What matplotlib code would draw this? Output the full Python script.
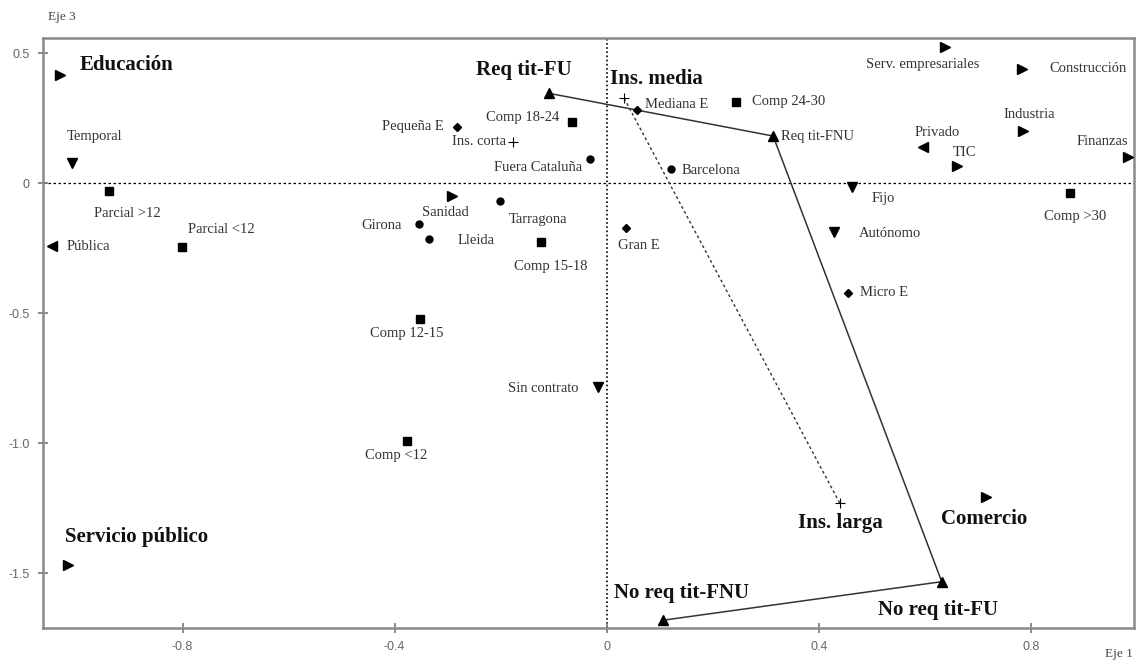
import matplotlib
matplotlib.use('Agg')
import matplotlib.pyplot as plt

# ---- coordinates on Eje 1 (x) / Eje 3 (y)

# sector (right-pointing triangles)
sector_names = ['Educación', 'Servicio público', 'Sanidad', 'Serv. empresariales',
                'Construcción', 'Industria', 'Finanzas', 'TIC', 'Comercio']
sector_x = [-1.032, -1.017, -0.292, 0.638, 0.783, 0.786, 0.984, 0.660, 0.715]
sector_y = [0.417, -1.468, -0.049, 0.523, 0.440, 0.201, 0.100, 0.067, -1.205]

# public / private (left-pointing triangles)
owner_names = ['Pública', 'Privado']
owner_x = [-1.047, 0.597]
owner_y = [-0.241, 0.141]

# contract type (down triangles)
contract_names = ['Temporal', 'Fijo', 'Autónomo', 'Sin contrato']
contract_x = [-1.009, 0.462, 0.428, -0.017]
contract_y = [0.077, -0.013, -0.186, -0.785]

# working time (squares)
hours_names = ['Parcial >12', 'Parcial <12', 'Comp 12-15', 'Comp <12', 'Comp 15-18',
               'Comp 18-24', 'Comp 24-30', 'Comp >30']
hours_x = [-0.938, -0.802, -0.353, -0.376, -0.124, -0.065, 0.244, 0.874]
hours_y = [-0.028, -0.244, -0.522, -0.991, -0.224, 0.237, 0.314, -0.038]

# company size (diamonds)
size_names = ['Pequeña E', 'Mediana E', 'Gran E', 'Micro E']
size_x = [-0.283, 0.057, 0.036, 0.456]
size_y = [0.218, 0.282, -0.173, -0.421]

# territory (circles)
terr_names = ['Girona', 'Lleida', 'Tarragona', 'Barcelona', 'Fuera Cataluña']
terr_x = [-0.354, -0.335, -0.201, 0.121, -0.032]
terr_y = [-0.157, -0.214, -0.067, 0.055, 0.093]

# degree requirement (up triangles), in path order
req_names = ['Req tit-FU', 'Req tit-FNU', 'No req tit-FU', 'No req tit-FNU']
req_x = [-0.108, 0.314, 0.632, 0.107]
req_y = [0.346, 0.182, -1.532, -1.680]

# insertion (plus)
ins_names = ['Ins. corta', 'Ins. media', 'Ins. larga']
ins_x = [-0.176, 0.033, 0.440]
ins_y = [0.160, 0.327, -1.231]

bold_names = ['Educación', 'Servicio público', 'Req tit-FU', 'Ins. media', 'Ins. larga',
              'Comercio', 'No req tit-FU', 'No req tit-FNU']

xticks = [-0.8, -0.4, 0, 0.4, 0.8]
xtick_labels = ['-0.8', '-0.4', '0', '0.4', '0.8']
yticks = [0.5, 0, -0.5, -1.0, -1.5]
ytick_labels = ['0.5', '0', '-0.5', '-1.0', '-1.5']

# label offsets in pixels (dx, dy, ha)
label_pos = {
    'Educación': (20, 10, 'left'), 'Servicio público': (-3, 28, 'left'),
    'Sanidad': (-7, -16, 'center'), 'Serv. empresariales': (-22, -17, 'center'),
    'Construcción': (28, 0, 'left'), 'Industria': (6, 17, 'center'),
    'Finanzas': (-26, 16, 'center'), 'TIC': (8, 13, 'center'),
    'Comercio': (-2, -22, 'center'),
    'Pública': (15, 0, 'left'), 'Privado': (14, 14, 'center'),
    'Temporal': (23, 27, 'center'), 'Fijo': (32, -12, 'center'),
    'Autónomo': (25, -2, 'left'), 'Sin contrato': (-19, -1, 'right'),
    'Parcial >12': (18, -23, 'center'), 'Parcial <12': (40, 17, 'center'),
    'Comp 12-15': (-13, -14, 'center'), 'Comp <12': (-11, -14, 'center'),
    'Comp 15-18': (10, -25, 'center'), 'Comp 18-24': (-13, 4, 'right'),
    'Comp 24-30': (16, 0, 'left'), 'Comp >30': (5, -23, 'center'),
    'Pequeña E': (-13, 0, 'right'), 'Mediana E': (8, 6, 'left'),
    'Gran E': (13, -17, 'center'), 'Micro E': (12, 0, 'left'),
    'Girona': (-17, -1, 'right'), 'Lleida': (29, -1, 'left'),
    'Tarragona': (38, -19, 'center'), 'Barcelona': (11, -1, 'left'),
    'Fuera Cataluña': (-8, -8, 'right'),
    'Req tit-FU': (-26, 23, 'center'), 'Req tit-FNU': (8, 0, 'left'),
    'No req tit-FU': (-4, -28, 'center'), 'No req tit-FNU': (18, 27, 'center'),
    'Ins. corta': (-7, 0, 'right'), 'Ins. media': (-14, 19, 'left'),
    'Ins. larga': (0, -20, 'center'),
}

fig = plt.figure(figsize=(11.37, 6.67), dpi=100)
ax = fig.add_axes([0.0375, 0.0585, 0.96, 0.8845])
ax.set_xlim(-1.064, 0.995)
ax.set_ylim(-1.71, 0.559)

ax.axhline(0, color='black', ls=(0, (2, 2)), lw=0.9, zorder=1)
ax.axvline(0, color='black', ls=(0, (1, 1.5)), lw=1.2, zorder=1)

# degree requirement path and insertion path
ax.plot(req_x, req_y, color='#333333', lw=1.1, zorder=2)
ax.plot(ins_x[1:], ins_y[1:], color='#333333', ls=(0, (2, 2)), lw=1.0, zorder=2)

groups = [
    (sector_names, sector_x, sector_y, dict(marker='>', ms=6.5)),
    (owner_names, owner_x, owner_y, dict(marker='<', ms=6.5)),
    (contract_names, contract_x, contract_y, dict(marker='v', ms=6.5)),
    (hours_names, hours_x, hours_y, dict(marker='s', ms=5.5)),
    (size_names, size_x, size_y, dict(marker='D', ms=4)),
    (terr_names, terr_x, terr_y, dict(marker='o', ms=5)),
    (req_names, req_x, req_y, dict(marker='^', ms=6.5)),
    (ins_names, ins_x, ins_y, dict(marker='+', ms=7, mew=0.8)),
]

for names, xs, ys, style in groups:
    ax.plot(xs, ys, ls='none', color='black', zorder=3, **style)
    for name, x, y in zip(names, xs, ys):
        dx, dy, ha = label_pos[name]
        if name in bold_names:
            kw = dict(fontsize=15, fontweight='bold', color='#111111')
        else:
            kw = dict(fontsize=10.5, color='#333333')
        ax.annotate(name, (x, y), xytext=(dx, dy), textcoords='offset pixels',
                    ha=ha, va='center', family='Liberation Serif', **kw)

ax.set_xticks(xticks)
ax.set_xticklabels(xtick_labels)
ax.set_yticks(yticks)
ax.set_yticklabels(ytick_labels)
ax.tick_params(direction='inout', length=7, width=1.2, color='#777777',
               labelcolor='#666666', labelsize=9, pad=6)
for lab in ax.get_xticklabels() + ax.get_yticklabels():
    lab.set_family('Liberation Sans')
for sp in ax.spines.values():
    sp.set_color('#8a8a8a')
    sp.set_linewidth(1.8)

fig.text(0.042, 0.975, 'Eje 3', family='Liberation Serif', fontsize=9.5,
         color='#444444', ha='left', va='center')
fig.text(0.996, 0.01, 'Eje 1', family='Liberation Serif', fontsize=9.5,
         color='#444444', ha='right', va='bottom')

fig.savefig('out.png', dpi=100)
